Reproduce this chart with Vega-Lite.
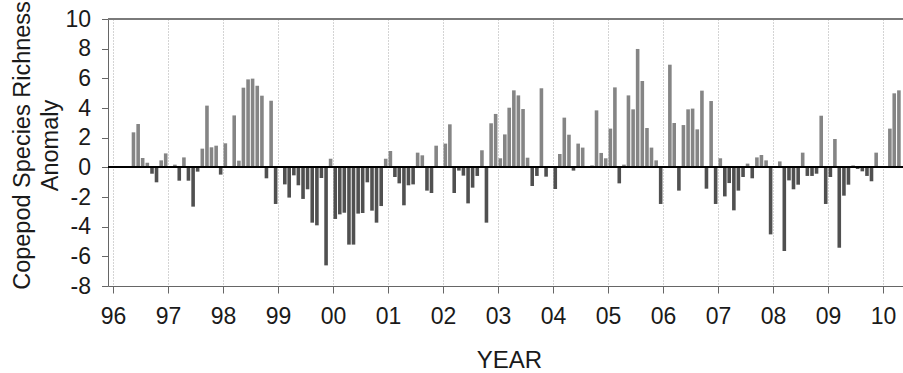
{
  "$schema": "https://vega.github.io/schema/vega-lite/v6.json",
  "width": 795,
  "height": 267,
  "autosize": "none",
  "padding": {"left": 108, "top": 19, "right": 0, "bottom": 87},
  "background": "white",
  "config": {
    "view": {"stroke": null},
    "font": "Liberation Sans",
    "axisY": {
      "tickCount": 9,
      "labelExpr": "'' + datum.value",
      "labelFontSize": 23,
      "labelColor": "#1a1a1a",
      "labelPadding": 11,
      "labelFlush": false,
      "labelOverlap": false,
      "tickSize": 6.5,
      "tickColor": "#666666",
      "domainColor": "#666666",
      "grid": false,
      "titleFontSize": 23.5,
      "titleFontWeight": "normal",
      "titleColor": "#1a1a1a",
      "titleAngle": 270,
      "titleAlign": "center",
      "titleBaseline": "alphabetic",
      "titleLineHeight": 28.7,
      "titleX": -79,
      "titleY": 126
    }
  },
  "data": {
    "values": [
      {"d": "1996-05-16", "v": 2.36}, {"d": "1996-06-16", "v": 2.92}, {"d": "1996-07-16", "v": 0.63}, {"d": "1996-08-16", "v": 0.31},
      {"d": "1996-09-16", "v": -0.43}, {"d": "1996-10-16", "v": -1.01}, {"d": "1996-11-16", "v": 0.47}, {"d": "1996-12-16", "v": 0.94},
      {"d": "1997-02-15", "v": 0.18}, {"d": "1997-03-16", "v": -0.9}, {"d": "1997-04-16", "v": 0.67}, {"d": "1997-05-16", "v": -0.9},
      {"d": "1997-06-16", "v": -2.65}, {"d": "1997-07-16", "v": -0.29}, {"d": "1997-08-16", "v": 1.26}, {"d": "1997-09-16", "v": 4.16},
      {"d": "1997-10-16", "v": 1.35}, {"d": "1997-11-16", "v": 1.46}, {"d": "1997-12-16", "v": -0.49},
      {"d": "1998-01-16", "v": 1.62}, {"d": "1998-03-16", "v": 3.5}, {"d": "1998-04-16", "v": 0.45}, {"d": "1998-05-16", "v": 5.37},
      {"d": "1998-06-16", "v": 5.93}, {"d": "1998-07-16", "v": 5.98}, {"d": "1998-08-16", "v": 5.5}, {"d": "1998-09-16", "v": 4.83},
      {"d": "1998-10-16", "v": -0.74}, {"d": "1998-11-16", "v": 4.49}, {"d": "1998-12-16", "v": -2.47},
      {"d": "1999-02-15", "v": -1.15}, {"d": "1999-03-16", "v": -2.04}, {"d": "1999-04-16", "v": -0.54}, {"d": "1999-05-16", "v": -1.21},
      {"d": "1999-06-16", "v": -2.13}, {"d": "1999-07-16", "v": -1.48}, {"d": "1999-08-16", "v": -3.73}, {"d": "1999-09-16", "v": -3.91},
      {"d": "1999-10-16", "v": -0.72}, {"d": "1999-11-16", "v": -6.61}, {"d": "1999-12-16", "v": 0.58},
      {"d": "2000-01-16", "v": -3.48}, {"d": "2000-02-15", "v": -3.17}, {"d": "2000-03-16", "v": -3.06}, {"d": "2000-04-16", "v": -5.21},
      {"d": "2000-05-16", "v": -5.21}, {"d": "2000-06-16", "v": -3.12}, {"d": "2000-07-16", "v": -3.08}, {"d": "2000-08-16", "v": -1.01},
      {"d": "2000-09-16", "v": -2.92}, {"d": "2000-10-16", "v": -3.73}, {"d": "2000-11-16", "v": -2.61}, {"d": "2000-12-16", "v": 0.58},
      {"d": "2001-01-16", "v": 1.1}, {"d": "2001-02-15", "v": -0.65}, {"d": "2001-03-16", "v": -1.08}, {"d": "2001-04-16", "v": -2.56},
      {"d": "2001-05-16", "v": -1.21}, {"d": "2001-06-16", "v": -1.15}, {"d": "2001-07-16", "v": 0.99}, {"d": "2001-08-16", "v": 0.81},
      {"d": "2001-09-16", "v": -1.57}, {"d": "2001-10-16", "v": -1.73}, {"d": "2001-11-16", "v": 1.46},
      {"d": "2002-01-16", "v": 1.6}, {"d": "2002-02-15", "v": 2.9}, {"d": "2002-03-16", "v": -1.73}, {"d": "2002-04-16", "v": -0.22},
      {"d": "2002-05-16", "v": -0.56}, {"d": "2002-06-16", "v": -2.43}, {"d": "2002-07-16", "v": -1.37}, {"d": "2002-08-16", "v": -0.58},
      {"d": "2002-09-16", "v": 1.15}, {"d": "2002-10-16", "v": -3.73}, {"d": "2002-11-16", "v": 2.97}, {"d": "2002-12-16", "v": 3.6},
      {"d": "2003-01-16", "v": 0.61}, {"d": "2003-02-15", "v": 2.22}, {"d": "2003-03-16", "v": 4.02}, {"d": "2003-04-16", "v": 5.19},
      {"d": "2003-05-16", "v": 4.85}, {"d": "2003-06-16", "v": 3.93}, {"d": "2003-07-16", "v": 0.65}, {"d": "2003-08-16", "v": -1.26},
      {"d": "2003-09-16", "v": -0.58}, {"d": "2003-10-16", "v": 5.33}, {"d": "2003-11-16", "v": -0.63},
      {"d": "2004-01-16", "v": -1.46}, {"d": "2004-02-15", "v": 0.9}, {"d": "2004-03-16", "v": 3.35}, {"d": "2004-04-16", "v": 2.2},
      {"d": "2004-05-16", "v": -0.22}, {"d": "2004-06-16", "v": 1.6}, {"d": "2004-07-16", "v": 1.33}, {"d": "2004-08-16", "v": 0.07},
      {"d": "2004-09-16", "v": 0.13}, {"d": "2004-10-16", "v": 3.84}, {"d": "2004-11-16", "v": 0.97}, {"d": "2004-12-16", "v": 0.61},
      {"d": "2005-01-16", "v": 2.61}, {"d": "2005-02-15", "v": 5.39}, {"d": "2005-03-16", "v": -1.08}, {"d": "2005-04-16", "v": 0.18},
      {"d": "2005-05-16", "v": 4.85}, {"d": "2005-06-16", "v": 3.91}, {"d": "2005-07-16", "v": 7.98}, {"d": "2005-08-16", "v": 5.82},
      {"d": "2005-09-16", "v": 2.65}, {"d": "2005-10-16", "v": 1.33}, {"d": "2005-11-16", "v": 0.47}, {"d": "2005-12-16", "v": -2.47},
      {"d": "2006-02-15", "v": 6.92}, {"d": "2006-03-16", "v": 2.99}, {"d": "2006-04-16", "v": -1.57}, {"d": "2006-05-16", "v": 2.85},
      {"d": "2006-06-16", "v": 3.91}, {"d": "2006-07-16", "v": 3.96}, {"d": "2006-08-16", "v": 2.56}, {"d": "2006-09-16", "v": 5.17},
      {"d": "2006-10-16", "v": -1.44}, {"d": "2006-11-16", "v": 4.47}, {"d": "2006-12-16", "v": -2.47},
      {"d": "2007-01-16", "v": 0.61}, {"d": "2007-02-15", "v": -1.96}, {"d": "2007-03-16", "v": -1.06}, {"d": "2007-04-16", "v": -2.9},
      {"d": "2007-05-16", "v": -1.57}, {"d": "2007-06-16", "v": -0.65}, {"d": "2007-07-16", "v": 0.25}, {"d": "2007-08-16", "v": -0.74},
      {"d": "2007-09-16", "v": 0.67}, {"d": "2007-10-16", "v": 0.83}, {"d": "2007-11-16", "v": 0.47}, {"d": "2007-12-16", "v": -4.52},
      {"d": "2008-02-15", "v": 0.4}, {"d": "2008-03-16", "v": -5.64}, {"d": "2008-04-16", "v": -0.88}, {"d": "2008-05-16", "v": -1.48},
      {"d": "2008-06-16", "v": -1.17}, {"d": "2008-07-16", "v": 0.99}, {"d": "2008-08-16", "v": -0.58}, {"d": "2008-09-16", "v": -0.58},
      {"d": "2008-10-16", "v": -0.43}, {"d": "2008-11-16", "v": 3.48}, {"d": "2008-12-16", "v": -2.47},
      {"d": "2009-01-16", "v": -0.65}, {"d": "2009-02-15", "v": 1.91}, {"d": "2009-03-16", "v": -5.42}, {"d": "2009-04-16", "v": -1.91},
      {"d": "2009-05-16", "v": -1.17}, {"d": "2009-06-16", "v": 0.13}, {"d": "2009-07-16", "v": -0.11}, {"d": "2009-08-16", "v": -0.27},
      {"d": "2009-09-16", "v": -0.58}, {"d": "2009-10-16", "v": -0.94}, {"d": "2009-11-16", "v": 0.99}, {"d": "2009-12-16", "v": 0.09},
      {"d": "2010-02-15", "v": 2.61}, {"d": "2010-03-16", "v": 4.99}, {"d": "2010-04-16", "v": 5.19}
    ]
  },
  "layer": [
    {
      "mark": {"type": "bar", "width": 3.6, "clip": true},
      "encoding": {
        "x": {
          "field": "d",
          "type": "temporal",
          "scale": {
            "type": "utc",
            "domain": [
              {"year": 1996, "month": 1, "date": 1, "utc": true},
              {"year": 2010, "month": 4, "date": 10, "utc": true}
            ]
          },
          "axis": {
            "tickCount": {"interval": "year", "step": 1},
            "format": "%y",
            "labelFontSize": 23,
            "labelColor": "#1a1a1a",
            "labelDx": -6,
            "labelPadding": 12,
            "labelFlush": false,
            "labelOverlap": false,
            "tickSize": 7,
            "tickColor": "#666666",
            "domainColor": "#666666",
            "grid": true,
            "gridDash": [1, 2],
            "gridColor": "#a8a8a8",
            "gridWidth": 1,
            "title": "YEAR",
            "titleFontSize": 24,
            "titleFontWeight": "normal",
            "titleColor": "#1a1a1a",
            "titleX": 401,
            "titleY": 81,
            "titleBaseline": "alphabetic"
          }
        },
        "y": {
          "field": "v",
          "type": "quantitative",
          "scale": {"domain": [-8, 10], "nice": false},
          "title": ["Copepod Species Richness", "Anomaly"]
        },
        "color": {
          "condition": {"test": "datum.v < 0", "value": "#505050"},
          "value": "#858585"
        }
      }
    },
    {
      "mark": {"type": "rule", "color": "#000000", "strokeWidth": 1.5},
      "encoding": {"y": {"datum": 0}}
    },
    {
      "mark": {"type": "rule", "color": "#7a7a7a", "strokeWidth": 1.2},
      "encoding": {"y": {"datum": 10}}
    }
  ]
}
